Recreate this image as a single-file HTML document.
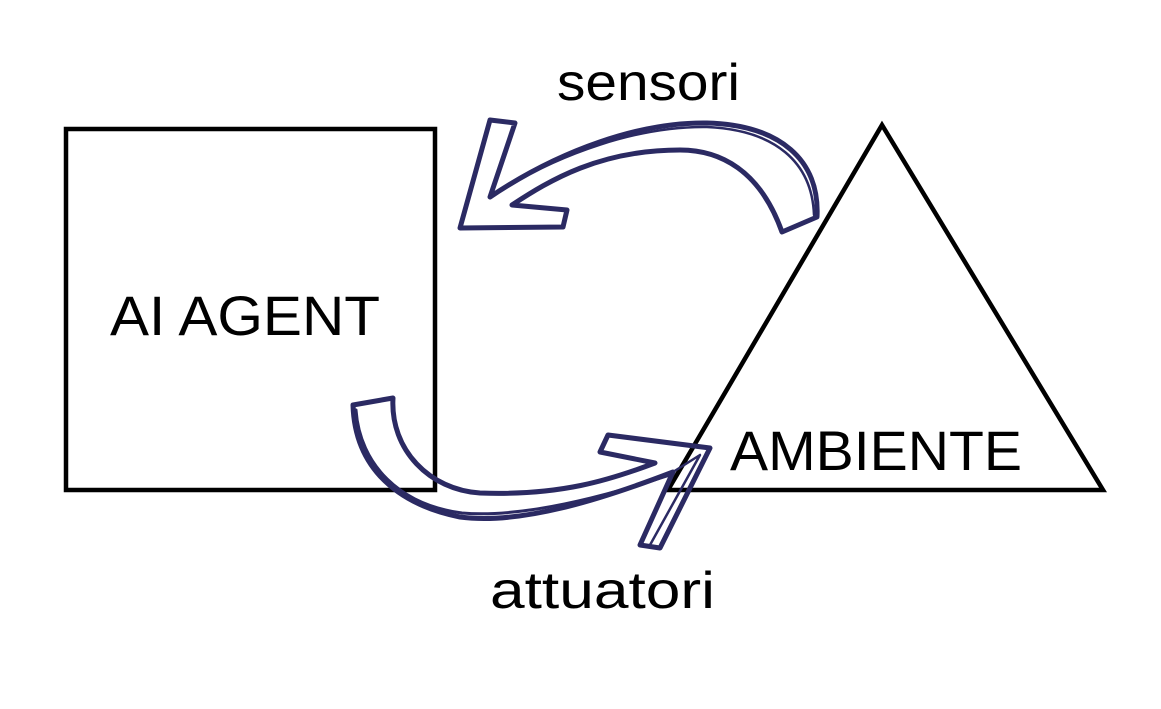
<!DOCTYPE html>
<html><head><style>body{margin:0;background:#fff}svg{display:block}</style></head><body>
<svg width="1161" height="709" viewBox="0 0 1161 709" xmlns="http://www.w3.org/2000/svg">
<rect width="1161" height="709" fill="#fff"/>
<rect x="66" y="129" width="369" height="361" fill="none" stroke="#000" stroke-width="4.5"/>
<polygon points="882,125 668,490 1103,490" fill="none" stroke="#000" stroke-width="4.5" stroke-linejoin="miter"/>
<g font-family="'Liberation Sans', sans-serif" fill="#000">
<text x="110" y="335" font-size="56" textLength="270" lengthAdjust="spacingAndGlyphs">AI AGENT</text>
<text x="730" y="470" font-size="56" textLength="292" lengthAdjust="spacingAndGlyphs">AMBIENTE</text>
<text x="557" y="100" font-size="52" textLength="183" lengthAdjust="spacingAndGlyphs">sensori</text>
<text x="490" y="608" font-size="52" textLength="225" lengthAdjust="spacingAndGlyphs">attuatori</text>
</g>
<g fill="none" stroke="#2b2a63" stroke-width="5" stroke-linejoin="round" stroke-linecap="round">
<path d="M460,228 L490,120 L515,123 L490,197 C560,150 640,122 707,123 C780,125 820,160 817,217 L782,232 C760,170 720,150 680,150 C600,150 550,180 512,205 L567,210 L563,227 Z"/>
<path d="M490,197 C560,152 640,126 707,127 C775,130 812,162 814,215" stroke-width="2.5"/>
<path d="M710,448 L660,548 L640,545 L673,472 C600,500 520,525 460,517 C400,505 355,470 353,405 L393,398 C390,450 430,490 480,493 C560,496 610,480 655,463 L600,452 L608,435 Z"/>
<path d="M356,410 C360,465 400,505 462,513 C520,518 600,498 670,475" stroke-width="3"/>
<path d="M673,472 L700,455 L650,545" stroke-width="2.5"/>
</g>
</svg>
</body></html>
